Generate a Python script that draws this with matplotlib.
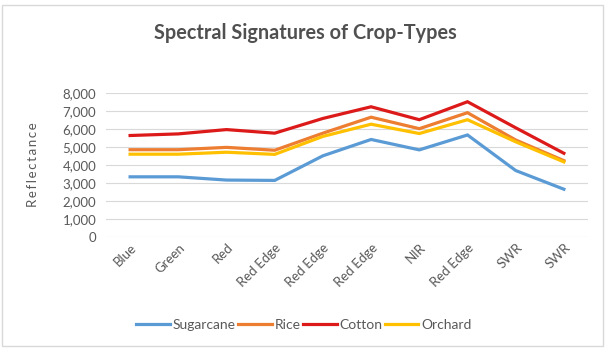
import matplotlib
matplotlib.use("Agg")
import matplotlib.pyplot as plt
from matplotlib.patches import Rectangle

plt.rcParams['font.family'] = ['Lato', 'DejaVu Sans']

# band names along the x axis
bands = ["Blue", "Green", "Red", "Red Edge", "Red Edge", "Red Edge",
         "NIR", "Red Edge", "SWR", "SWR"]

# reflectance per crop type
sugarcane = [3350, 3350, 3170, 3150, 4520, 5430, 4850, 5680, 3700, 2660]
rice = [4860, 4860, 4990, 4830, 5780, 6670, 6030, 6920, 5400, 4250]
cotton = [5650, 5740, 5980, 5780, 6600, 7250, 6530, 7530, 6080, 4660]
orchard = [4610, 4610, 4720, 4600, 5600, 6280, 5760, 6530, 5300, 4180]

series_names = ["Sugarcane", "Rice", "Cotton", "Orchard"]
colors = ["#5B9BD5", "#ED7D31", "#DD1A1A", "#FFC000"]

grey_text = "#595959"

fig = plt.figure(figsize=(6.09, 3.55), dpi=100)
ax = fig.add_axes([106 / 609, 1 - 237 / 355, 482 / 609, 143.7 / 355])

# chart border
fig.patches.append(Rectangle((2 / 609, 1 - 346 / 355), 601 / 609, 341 / 355,
                             transform=fig.transFigure, fill=False,
                             edgecolor="#D9D9D9", linewidth=1))

x = range(len(bands))
for vals, name, c in zip([sugarcane, rice, cotton, orchard], series_names, colors):
    ax.plot(x, vals, color=c, linewidth=2.3, label=name, solid_joinstyle="miter")

ax.set_xlim(-0.5, len(bands) - 0.5)
ax.set_ylim(0, 8000)
ax.set_yticks(range(0, 8001, 1000))
ax.set_yticklabels([f"{v:,}" for v in range(0, 8001, 1000)])
ax.yaxis.grid(True, color="#D9D9D9", linewidth=0.8)
ax.set_axisbelow(True)
for s in ax.spines.values():
    s.set_visible(False)
ax.tick_params(axis="both", length=0, labelsize=9.5, colors=grey_text, pad=7)

ax.set_xticks(list(x))
ax.set_xticklabels(bands, rotation=45, ha="right", rotation_mode="anchor")
ax.tick_params(axis="x", pad=3)

fig.text(33 / 609, 1 - 165 / 355, "\u2009".join("Reflectance"), rotation=90,
         ha="center", va="center", fontsize=9.5, color=grey_text)

fig.text(305 / 609, 1 - 33 / 355, "Spectral Signatures of Crop-Types",
         ha="center", va="center", fontsize=14.3, fontweight="bold",
         color="#505050")

leg = fig.legend(loc="center", bbox_to_anchor=(304 / 609, 1 - 325 / 355),
                 ncol=4, frameon=False, fontsize=10, handlelength=2.4,
                 handletextpad=0.2, columnspacing=0.2, labelcolor=grey_text)

fig.savefig("out.png", dpi=100)
